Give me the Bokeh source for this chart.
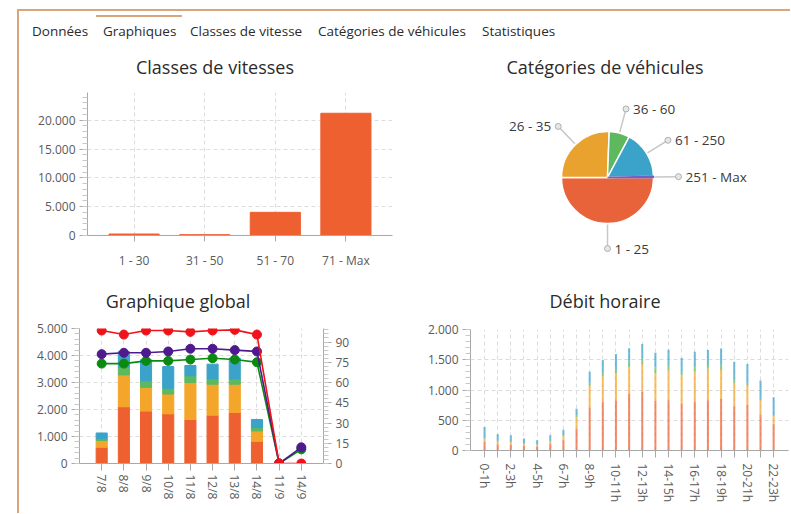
import math
from bokeh.plotting import figure
from bokeh.layouts import row, column
from bokeh.models import Div, FactorRange, Range1d, LinearAxis, FixedTicker, ColumnDataSource
from bokeh.core.properties import value
from bokeh.embed import file_html
from bokeh.resources import INLINE

# ---------------- data ----------------
tab_labels = ["Données", "Graphiques", "Classes de vitesse", "Catégories de véhicules", "Statistiques"]

speed_classes = ["1 - 30", "31 - 50", "51 - 70", "71 - Max"]
speed_counts = [260, 150, 4020, 21200]
speed_ticks = [0, 5000, 10000, 15000, 20000]
speed_tick_labels = ["0", "5.000", "10.000", "15.000", "20.000"]

vehicle_categories = ["1 - 25", "26 - 35", "36 - 60", "61 - 250", "251 - Max"]
vehicle_counts = [12800, 6550, 1850, 4300, 100]

days = ["7/8", "8/8", "9/8", "10/8", "11/8", "12/8", "13/8", "14/8", "11/9", "14/9"]
day_cat_1_25 = [600, 2100, 1940, 1840, 1630, 1790, 1890, 820, 0, 0]
day_cat_26_35 = [250, 1180, 880, 735, 1370, 1145, 1045, 385, 0, 0]
day_cat_36_60 = [70, 290, 250, 210, 250, 195, 195, 125, 0, 0]
day_cat_61_250 = [210, 580, 770, 805, 380, 550, 770, 300, 0, 0]
day_line_red = [98.5, 95.5, 98.5, 98.5, 97.5, 98.5, 99, 95.5, 0, 0]
day_line_purple = [81, 82, 82, 83, 85, 85, 84, 83, 0, 12]
day_line_green = [74, 74, 76, 76, 77, 78, 77, 75, 0, 10.5]
global_left_ticks = [0, 1000, 2000, 3000, 4000, 5000]
global_left_labels = ["0", "1.000", "2.000", "3.000", "4.000", "5.000"]
global_right_ticks = [0, 15, 30, 45, 60, 75, 90]

hours = ["0-1h", "1-2h", "2-3h", "3-4h", "4-5h", "5-6h", "6-7h", "7-8h", "8-9h", "9-10h",
         "10-11h", "11-12h", "12-13h", "13-14h", "14-15h", "15-16h", "16-17h", "17-18h",
         "18-19h", "19-20h", "20-21h", "21-22h", "22-23h"]
hour_cat_1_25 = [140, 105, 100, 75, 65, 110, 170, 360, 710, 800, 827, 940, 965, 820, 830, 780, 810, 830, 850, 730, 760, 592, 440]
hour_cat_26_35 = [50, 50, 40, 35, 30, 45, 75, 195, 360, 430, 450, 435, 466, 460, 500, 460, 500, 520, 480, 380, 310, 240, 130]
hour_cat_36_60 = [10, 8, 7, 6, 5, 8, 10, 25, 40, 60, 65, 110, 90, 90, 90, 75, 85, 80, 90, 70, 35, 25, 12]
hour_cat_61_250 = [188, 105, 105, 81, 70, 89, 90, 110, 190, 207, 253, 205, 239, 247, 246, 215, 238, 230, 268, 289, 325, 300, 300]
hour_ticks = [0, 500, 1000, 1500, 2000]
hour_tick_labels = ["0", "500", "1.000", "1.500", "2.000"]

# ---------------- style ----------------
FONT = "Open Sans"
BORDER = "#D9A57B"
C_RED = "#EE6030"
C_ORANGE = "#F4A62A"
C_GREEN = "#5DB85E"
C_BLUE = "#3BA3C9"
C_PURPLE = "#6B63C9"
AX = "#A8A8A8"
GRID = "#DCDCDC"
TXT = "#5a5a5a"


def style_fig(p):
    p.outline_line_color = None
    p.background_fill_color = "white"
    p.border_fill_color = "white"
    for ax in p.axis:
        ax.axis_line_color = AX
        ax.major_tick_line_color = AX
        ax.minor_tick_line_color = "#C8C8C8"
        ax.major_tick_out = 8
        ax.major_tick_in = 0
        ax.minor_tick_out = 5
        ax.minor_tick_in = 0
        ax.major_label_text_font = FONT
        ax.major_label_text_font_size = "12px"
        ax.major_label_text_color = TXT
        ax.major_label_standoff = 4
    for g in p.grid:
        g.grid_line_color = GRID
        g.grid_line_dash = "4 3"
        g.grid_line_width = 1


def title_div(text, width, height, center, top):
    html = (f'<div style="position:relative;width:{width}px;height:{height}px;">'
            f'<div style="position:absolute;left:0;top:{top}px;width:{2*center}px;text-align:center;'
            f'font-family:\'{FONT}\';font-size:18px;line-height:24px;color:#2b2b2b;white-space:nowrap">{text}</div></div>')
    return Div(text=html, width=width, height=height, margin=0)


# ---------------- chart 1 : Classes de vitesses ----------------
p1 = figure(x_range=FactorRange(*speed_classes, range_padding=0.16, range_padding_units="absolute"),
            y_range=Range1d(0, 24800), frame_width=305, frame_height=143,
            min_border_left=68, min_border_right=8, min_border_top=10, min_border_bottom=40,
            output_backend="svg", toolbar_location=None)
p1.vbar(x=speed_classes, top=speed_counts, width=0.71, fill_color=C_RED, line_color=C_RED)
style_fig(p1)
p1.yaxis.ticker = FixedTicker(ticks=speed_ticks, minor_ticks=list(range(0, 25000, 1000)))
p1.yaxis.major_label_overrides = dict(zip(speed_ticks, speed_tick_labels))
p1.xaxis.major_tick_out = 6
p1.xaxis.major_label_standoff = 10

# ---------------- chart 2 : Catégories de véhicules (pie) ----------------
p2 = figure(x_range=Range1d(-207, 183), y_range=Range1d(-98, 95), frame_width=390, frame_height=193,
            min_border=0, x_axis_location=None, y_axis_location=None,
            output_backend="svg", toolbar_location=None)
p2.grid.visible = False
p2.outline_line_color = None
total = sum(vehicle_counts)
starts, ends, mids = [], [], []
acc = 0
for v in vehicle_counts:
    a0 = acc / total * 2 * math.pi
    acc += v
    a1 = acc / total * 2 * math.pi
    starts.append(-a0)
    ends.append(-a1)
    mids.append(-(a0 + a1) / 2)
pie_colors = ["#E9633A", "#E9A22E", C_GREEN, C_BLUE, C_PURPLE]
pie_lines = ["white", "white", "white", "white", C_PURPLE]
R = 46
p2.wedge(x=0, y=0, radius=R, start_angle=starts, end_angle=ends, direction="clock",
         fill_color=pie_colors, line_color=pie_lines, line_width=1.5)
R_LAB = 71
x0 = [(R + 1) * math.cos(m) for m in mids]
y0 = [(R + 1) * math.sin(m) for m in mids]
x1 = [R_LAB * math.cos(m) for m in mids]
y1 = [R_LAB * math.sin(m) for m in mids]
p2.segment(x0=x0, y0=y0, x1=x1, y1=y1, line_color="#C8C8C8", line_width=1.5)
p2.scatter(x=x1, y=y1, size=6, fill_color="#E6E6E6", line_color="#AFAFAF", line_width=1)
left_side = [math.cos(m) < -0.2 for m in mids]
tx = [x - 7 if l else x + 7 for x, l in zip(x1, left_side)]
talign = ["right" if l else "left" for l in left_side]
p2.text(x=tx, y=y1, text=vehicle_categories, text_align=talign, text_baseline="middle",
        text_font=value(FONT), text_font_size="13.5px", text_color="#3a3a3a")

# ---------------- chart 3 : Graphique global ----------------
p3 = figure(x_range=FactorRange(*days, range_padding=0.5, range_padding_units="absolute"),
            y_range=Range1d(0, 5000), frame_width=244, frame_height=135,
            min_border_left=60, min_border_right=77, min_border_top=12, min_border_bottom=50,
            output_backend="svg", toolbar_location=None)
p3.extra_y_ranges = {"pct": Range1d(0, 100)}
src3 = ColumnDataSource(dict(days=days, c1=day_cat_1_25, c2=day_cat_26_35, c3=day_cat_36_60, c4=day_cat_61_250))
p3.vbar_stack(["c1", "c2", "c3", "c4"], x="days", width=0.5, source=src3,
              fill_color=[C_RED, C_ORANGE, C_GREEN, C_BLUE], line_color=[C_RED, C_ORANGE, C_GREEN, C_BLUE])
ax_r = LinearAxis(y_range_name="pct")
p3.add_layout(ax_r, "right")
for vals, col in ((day_line_green, "#0B8A12"), (day_line_purple, "#4E1A8E"), (day_line_red, "#F0121A")):
    p3.line(days, vals, y_range_name="pct", line_color=col, line_width=1.6)
    p3.scatter(days, vals, y_range_name="pct", size=9, fill_color=col, line_color=col)
style_fig(p3)
p3.yaxis[0].ticker = FixedTicker(ticks=global_left_ticks, minor_ticks=list(range(0, 5001, 200)))
p3.yaxis[0].major_label_overrides = dict(zip(global_left_ticks, global_left_labels))
ax_r.ticker = FixedTicker(ticks=global_right_ticks, minor_ticks=list(range(0, 100, 3)))
p3.xaxis.major_label_orientation = -math.pi / 2
p3.xaxis.major_tick_out = 7

# ---------------- chart 4 : Débit horaire ----------------
hour_pos = list(range(len(hours)))
p4 = figure(x_range=Range1d(-1.07, 23.13), y_range=Range1d(0, 2000), frame_width=318, frame_height=121,
            min_border_left=70, min_border_right=2, min_border_top=13, min_border_bottom=63,
            output_backend="svg", toolbar_location=None)
src4 = ColumnDataSource(dict(x=hour_pos, h1=hour_cat_1_25, h2=hour_cat_26_35, h3=hour_cat_36_60, h4=hour_cat_61_250))
p4.vbar_stack(["h1", "h2", "h3", "h4"], x="x", width=0.16, source=src4,
              fill_color=[C_RED, C_ORANGE, C_GREEN, C_BLUE], line_color=None, fill_alpha=0.7)
style_fig(p4)
p4.yaxis.ticker = FixedTicker(ticks=hour_ticks, minor_ticks=list(range(0, 2001, 100)))
p4.yaxis.major_label_overrides = dict(zip(hour_ticks, hour_tick_labels))
p4.xaxis.ticker = FixedTicker(ticks=hour_pos, minor_ticks=[])
p4.xaxis.major_label_overrides = {i: (" " if i % 2 else h) for i, h in enumerate(hours)}
p4.xaxis.major_label_orientation = -math.pi / 2
p4.xaxis.major_tick_out = 7
p4.xaxis.major_label_standoff = 6

# ---------------- layout ----------------
spans = "".join(
    f'<span style="position:absolute;left:{x}px;top:11px;white-space:nowrap">{t}</span>'
    for t, x in zip(tab_labels, [13, 84, 171, 299, 463]))
tabs_html = (f'<div style="position:relative;width:771px;height:39px;font-family:\'{FONT}\';'
             f'font-size:13.5px;line-height:18px;color:#2b2b2b">'
             f'<div style="position:absolute;left:77px;top:4px;width:86px;height:2px;background:{BORDER}"></div>'
             f'{spans}</div>')
tabs = Div(text=tabs_html, width=771, height=39, margin=0)

row1 = row(column(title_div("Classes de vitesses", 381, 32, 196, 5), p1),
           column(title_div("Catégories de véhicules", 390, 32, 205, 5), p2))
row2 = row(column(title_div("Graphique global", 381, 41, 159, 14), p3),
           column(title_div("Débit horaire", 390, 41, 205, 14), p4))
content = column(tabs, row1, row2)

top_border = Div(text="", width=773, height=2, margin=0, styles={"background-color": BORDER})
left_border = Div(text="", width=2, height=502, margin=0, styles={"background-color": BORDER})
root = row(Div(text="", width=17, height=513, margin=0),
           column(Div(text="", width=773, height=9, margin=0), top_border, row(left_border, content)))

open("out.html", "w").write(file_html(root, INLINE))
